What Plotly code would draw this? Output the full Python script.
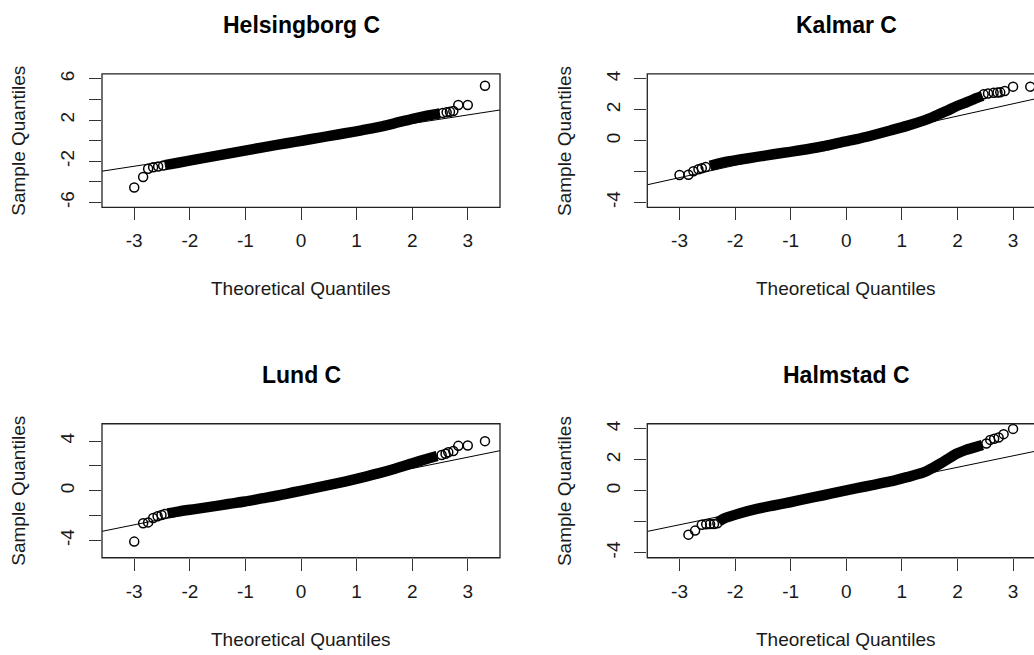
import plotly.graph_objects as go

# ---------------- data ----------------
stations = ["Helsingborg C", "Kalmar C", "Lund C", "Halmstad C"]

# Helsingborg C
hel_tail_x = [-3.0, -2.84, -2.75, -2.66, -2.57, -2.48, 2.55, 2.62, 2.68, 2.74, 2.83, 3.0, 3.31]
hel_tail_y = [-4.55, -3.52, -2.72, -2.58, -2.5, -2.42, 2.7, 2.75, 2.8, 2.88, 3.46, 3.46, 5.33]
hel_body_x = [-2.45, -2.21, -1.91, -1.61, -1.31, -1.01, -0.71, -0.41, -0.11, 0.19, 0.49, 0.79,
              1.09, 1.39, 1.69, 1.99, 2.29, 2.5]
hel_body_y = [-2.38, -2.14, -1.84, -1.55, -1.25, -0.96, -0.67, -0.38, -0.11, 0.16, 0.44, 0.72,
              1.01, 1.32, 1.7, 2.1, 2.45, 2.65]
hel_line = [0.01, 0.83]      # intercept, slope of qqline

# Kalmar C
kal_tail_x = [-3.0, -2.84, -2.75, -2.66, -2.6, -2.53, 2.47, 2.55, 2.65, 2.72, 2.77, 2.85, 3.0, 3.31]
kal_tail_y = [-2.22, -2.2, -1.98, -1.85, -1.78, -1.7, 3.0, 3.05, 3.1, 3.12, 3.13, 3.22, 3.5, 3.5]
kal_body_x = [-2.45, -2.21, -1.91, -1.61, -1.31, -1.01, -0.71, -0.41, -0.11, 0.19, 0.49, 0.79,
              1.09, 1.39, 1.54, 1.69, 1.84, 1.99, 2.14, 2.29, 2.45]
kal_body_y = [-1.62, -1.4, -1.22, -1.05, -0.88, -0.72, -0.55, -0.36, -0.12, 0.1, 0.37, 0.66,
              0.96, 1.3, 1.5, 1.75, 1.98, 2.25, 2.45, 2.68, 2.9]
kal_line = [0.0, 0.797]

# Lund C
lund_tail_x = [-3.0, -2.84, -2.75, -2.66, -2.58, -2.51, -2.45, 2.53, 2.6, 2.65, 2.74, 2.83, 3.0, 3.31]
lund_tail_y = [-4.1, -2.62, -2.55, -2.2, -2.05, -1.95, -1.88, 2.88, 2.98, 3.1, 3.2, 3.62, 3.65, 4.0]
lund_body_x = [-2.4, -2.21, -1.91, -1.61, -1.31, -1.01, -0.71, -0.41, -0.11, 0.19, 0.49, 0.79,
               1.09, 1.39, 1.69, 1.99, 2.29, 2.45]
lund_body_y = [-1.83, -1.68, -1.48, -1.28, -1.07, -0.87, -0.62, -0.38, -0.1, 0.17, 0.45, 0.74,
               1.06, 1.4, 1.78, 2.2, 2.6, 2.8]
lund_line = [-0.02, 0.908]

# Halmstad C
halm_tail_x = [-2.84, -2.72, -2.6, -2.52, -2.45, -2.38, -2.32, 2.52, 2.59, 2.66, 2.74, 2.83, 3.0]
halm_tail_y = [-2.83, -2.57, -2.2, -2.16, -2.15, -2.14, -2.1, 3.05, 3.28, 3.35, 3.43, 3.65, 3.99]
halm_body_x = [-2.3, -2.21, -1.91, -1.61, -1.31, -1.01, -0.71, -0.41, -0.11, 0.19, 0.49, 0.79,
               1.09, 1.39, 1.54, 1.69, 1.84, 1.99, 2.14, 2.29, 2.45]
halm_body_y = [-2.0, -1.8, -1.45, -1.17, -0.95, -0.74, -0.51, -0.29, -0.06, 0.17, 0.38, 0.6,
               0.88, 1.18, 1.45, 1.75, 2.08, 2.4, 2.62, 2.78, 2.95]
halm_line = [0.03, 0.741]

x_ticks = [-3, -2, -1, 0, 1, 2, 3]
y_ticks = {
    "Helsingborg C": ([-6, -4, -2, 0, 2, 4, 6], ["-6", "", "-2", "", "2", "", "6"]),
    "Kalmar C": ([-4, -2, 0, 2, 4], ["-4", "", "0", "2", "4"]),
    "Lund C": ([-4, -2, 0, 2, 4], ["-4", "", "0", "", "4"]),
    "Halmstad C": ([-4, -2, 0, 2, 4], ["-4", "", "0", "2", "4"]),
}
y_limits = {"Helsingborg C": 6, "Kalmar C": 4, "Lund C": 5, "Halmstad C": 4}

series = {
    "Helsingborg C": (hel_tail_x, hel_tail_y, hel_body_x, hel_body_y, hel_line),
    "Kalmar C": (kal_tail_x, kal_tail_y, kal_body_x, kal_body_y, kal_line),
    "Lund C": (lund_tail_x, lund_tail_y, lund_body_x, lund_body_y, lund_line),
    "Halmstad C": (halm_tail_x, halm_tail_y, halm_body_x, halm_body_y, halm_line),
}

# ---------------- layout ----------------
W, H = 1034, 655
FONT = "Liberation Sans, Arial, Helvetica, sans-serif"
INK = "#1a1a1a"

def px(x):
    return x / W

def py(y):
    return 1 - y / H

# pixel boxes: (left, right, top, bottom)
boxes = {
    "Helsingborg C": (102, 500, 70.5, 205),
    "Kalmar C": (647.3, 1034, 70.5, 205),
    "Lund C": (102, 500, 423, 558),
    "Halmstad C": (647.3, 1034, 423, 558),
}
unit_px = 398 / 7.16   # pixels per theoretical quantile unit
x_lo = -3.58

fig = go.Figure()
layout = dict(
    width=W, height=H,
    margin=dict(l=0, r=0, t=0, b=0),
    paper_bgcolor="white", plot_bgcolor="white",
    showlegend=False,
    font=dict(family=FONT, color=INK, size=19),
)
shapes, annotations = [], []

for i, name in enumerate(stations, start=1):
    tx, ty, bx, by, (b0, b1) = series[name]
    l, r, t, b = boxes[name]
    xa = "x" if i == 1 else f"x{i}"
    ya = "y" if i == 1 else f"y{i}"
    x_hi = x_lo + (r - l) / unit_px
    lim = y_limits[name] * 1.08

    # dense body of points
    fig.add_trace(go.Scatter(x=bx, y=by, mode="lines", xaxis=xa, yaxis=ya,
                             line=dict(color="black", width=10.5, shape="spline", smoothing=0.8),
                             hoverinfo="skip"))
    # individual points
    fig.add_trace(go.Scatter(x=tx, y=ty, mode="markers", xaxis=xa, yaxis=ya,
                             marker=dict(symbol="circle-open", size=9, color="black",
                                         line=dict(width=1.5, color="black"))))
    # qq line across the whole panel
    lx = [x_lo, x_hi]
    fig.add_trace(go.Scatter(x=lx, y=[b0 + b1 * v for v in lx], mode="lines",
                             xaxis=xa, yaxis=ya, line=dict(color="black", width=1)))

    yt, ytt = y_ticks[name]
    layout["xaxis" if i == 1 else f"xaxis{i}"] = dict(
        domain=[px(l), min(1.0, px(r))], range=[x_lo, x_hi], anchor=ya,
        tickvals=x_ticks, ticktext=[str(v) for v in x_ticks],
        ticks="outside", ticklen=12, tickwidth=1.3, tickcolor="#333",
        showgrid=False, zeroline=False, showline=False,
        tickfont=dict(size=19, family=FONT, color=INK), ticklabelstandoff=4,
    )
    layout["yaxis" if i == 1 else f"yaxis{i}"] = dict(
        domain=[py(b), py(t)], range=[-lim, lim], anchor=xa,
        tickvals=yt, ticktext=ytt, tickangle=-90,
        ticks="outside", ticklen=12, tickwidth=1.3, tickcolor="#333",
        showgrid=False, zeroline=False, showline=False,
        tickfont=dict(size=19, family=FONT, color=INK), ticklabelstandoff=7,
    )
    # plot box (right panels are cut off by the page edge)
    shapes.append(dict(type="rect", xref="paper", yref="paper",
                       x0=px(l), x1=px(r) if r < W else px(W + 5), y0=py(b), y1=py(t),
                       line=dict(color="#222", width=1.3), fillcolor="rgba(0,0,0,0)"))
    cx = l + (0 - x_lo) * unit_px
    annotations.append(dict(text=name, x=px(cx), y=py(t - 49), xref="paper", yref="paper",
                            showarrow=False, xanchor="center", yanchor="middle",
                            font=dict(size=23, family=FONT, color="black", weight="bold")))
    annotations.append(dict(text="Theoretical Quantiles", x=px(cx), y=py(b + 82),
                            xref="paper", yref="paper", showarrow=False,
                            xanchor="center", yanchor="middle",
                            font=dict(size=19, family=FONT, color=INK)))
    annotations.append(dict(text="Sample Quantiles", x=px(l - 83), y=py((t + b) / 2),
                            xref="paper", yref="paper", showarrow=False, textangle=-90,
                            xanchor="center", yanchor="middle",
                            font=dict(size=19, family=FONT, color=INK)))

layout["shapes"] = shapes
layout["annotations"] = annotations
fig.update_layout(**layout)
fig.write_html("out.html")
